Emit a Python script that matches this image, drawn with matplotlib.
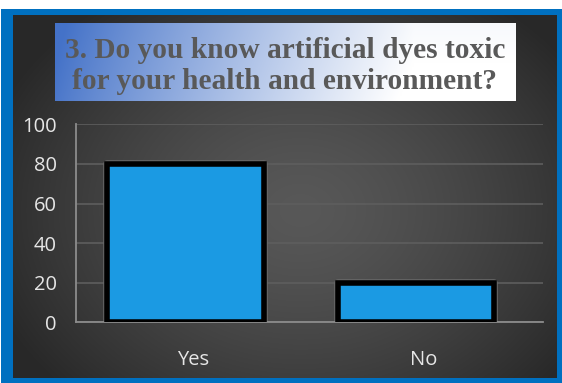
import numpy as np
import matplotlib
matplotlib.use("Agg")
import matplotlib.pyplot as plt
import matplotlib.transforms as mtransforms

# survey answers
categories = ["Yes", "No"]
percent = [80, 20]
yticks = [0, 20, 40, 60, 80, 100]
title_lines = ["3. Do you know artificial dyes toxic",
               "for your health and environment?"]

W, H = 562, 383
fig = plt.figure(figsize=(W / 100, H / 100), dpi=100)

# background: white margin, blue frame, dark radial gradient panel
bg = fig.add_axes([0, 0, 1, 1])
bg.set_xlim(0, W)
bg.set_ylim(H, 0)
bg.axis("off")

img = np.ones((H, W, 3))
img[9:, 1:, :] = np.array([0, 112, 192]) / 255
yy, xx = np.mgrid[15:378, 13:557]
r = np.sqrt(((xx - 300) / 330) ** 2 + ((yy - 210) / 260) ** 2)
r = np.clip(r, 0, 1)
shade = (88 - 48 * r ** 1.4) / 255
img[15:378, 13:557, :] = shade[..., None]
bg.imshow(img, extent=[0, W, H, 0], aspect="auto", interpolation="bilinear")

# title box with blue-to-white gradient
gx = np.linspace(0, 1, 300)
gy = np.linspace(0, 1, 40)
GX, GY = np.meshgrid(gx, gy)
t = np.clip(GX / 0.78, 0, 1) ** 0.9
t = np.clip(t + 0.08 * (GY - 0.5), 0, 1)
left = np.array([68, 114, 200]) / 255
box = left[None, None, :] * (1 - t[..., None]) + t[..., None]
bg.imshow(box, extent=[55, 516, 101, 23], aspect="auto", interpolation="bilinear")

for i, line in enumerate(title_lines):
    bg.text(285, 58 + 31 * i, line, ha="center", va="baseline",
            fontsize=21.2, fontweight="bold", color="#595959",
            family="Liberation Serif")

# chart
ax = fig.add_axes([76 / W, 1 - 322.3 / H, (543 - 76) / W, (322.3 - 124.3) / H])
ax.set_facecolor("none")
x = np.arange(len(categories))
ax.bar(x, percent, width=0.68, color="none", edgecolor="#6a6a6a",
       linewidth=5.4, joinstyle="round", zorder=2)
ax.bar(x, percent, width=0.68, color="#1b9ae3", edgecolor="black",
       linewidth=4.0, zorder=3)

ax.set_xlim(-0.475, 1.551)
ax.set_ylim(0, 100)
ax.set_yticks(yticks)
ax.yaxis.grid(True, color="#5e5e5e", linewidth=1.2)
ax.set_axisbelow(True)
for s in ["top", "right"]:
    ax.spines[s].set_visible(False)
for s in ["left", "bottom"]:
    ax.spines[s].set_color("#8c8c8c")
    ax.spines[s].set_linewidth(1.3)

ax.set_xticks(x)
ax.set_xticklabels(categories)
ax.tick_params(length=0, labelsize=14.5, labelcolor="#e6e6e6")
ax.tick_params(axis="x", pad=20)
ax.tick_params(axis="y", pad=14)
for lab in ax.get_yticklabels() + ax.get_xticklabels():
    lab.set_family("Open Sans")
offset = mtransforms.ScaledTranslation(0.08, 0, fig.dpi_scale_trans)
for lab in ax.get_xticklabels():
    lab.set_transform(lab.get_transform() + offset)

fig.savefig("out.png", dpi=100)
